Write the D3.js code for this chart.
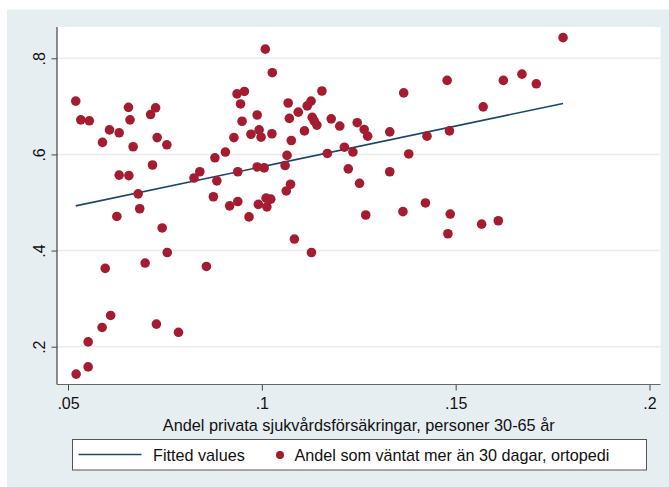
<!DOCTYPE html>
<html>
<head>
<meta charset="utf-8">
<script src="https://cdn.jsdelivr.net/npm/d3@7"></script>
<style>
    body { margin: 0; background: #ffffff; }
    svg { display: block; font-family: "Liberation Sans", Arial, sans-serif; }
    .axis text { font-size: 16px; fill: #111; }
    .axis line { stroke: #444; }
</style>
</head>
<body>
<svg width="669" height="487"></svg>
<script>
// Andel privata sjukvårdsförsäkringar vs väntetid ortopedi

// insurance share (x) and share waiting > 30 days (y), one entry per region
var insuranceShare = [
    0.0520, 0.0533, 0.0555, 0.0589, 0.0607, 0.0632, 0.0656, 0.0660, 0.0668, 0.0713,
    0.0726, 0.0730, 0.0755, 0.0718, 0.0632, 0.0657, 0.0681, 0.0685, 0.0626, 0.0825,
    0.0840, 0.0879, 0.0884, 0.0906, 0.0875, 0.0917, 0.0938, 0.0928, 0.0936, 0.0955,
    0.0945, 0.0949, 0.0938, 0.0972, 0.0988, 0.0988, 0.0967, 0.0991, 0.0743, 0.0756,
    0.0699, 0.0596, 0.0857, 0.0610, 0.0588, 0.0552, 0.0552, 0.0521, 0.0728, 0.0785,
    0.1009, 0.1027, 0.0993, 0.0998, 0.1026, 0.1068, 0.1071, 0.1094, 0.1117, 0.1127,
    0.1155, 0.1130, 0.1135, 0.1142, 0.1110, 0.1076, 0.1065, 0.1060, 0.1006, 0.1179,
    0.1201, 0.1246, 0.1264, 0.1273, 0.1330, 0.1366, 0.1478, 0.1426, 0.1484, 0.1169,
    0.1213, 0.1235, 0.1223, 0.1379, 0.1330, 0.1252, 0.1074, 0.1063, 0.1011, 0.1023,
    0.1013, 0.1268, 0.1364, 0.1422, 0.1486, 0.1084, 0.1128, 0.1480, 0.1777, 0.1623,
    0.1671, 0.1708, 0.1571, 0.1567, 0.1610
];
var waitShare = [
    0.711, 0.672, 0.670, 0.625, 0.651, 0.645, 0.698, 0.672, 0.616, 0.683,
    0.697, 0.635, 0.620, 0.578, 0.557, 0.556, 0.518, 0.487, 0.471, 0.551,
    0.564, 0.593, 0.545, 0.605, 0.512, 0.493, 0.502, 0.635, 0.726, 0.731,
    0.705, 0.669, 0.564, 0.642, 0.682, 0.574, 0.470, 0.496, 0.447, 0.396,
    0.374, 0.363, 0.367, 0.265, 0.240, 0.210, 0.158, 0.143, 0.247, 0.230,
    0.819, 0.770, 0.651, 0.636, 0.643, 0.707, 0.675, 0.688, 0.701, 0.711,
    0.732, 0.677, 0.670, 0.661, 0.649, 0.629, 0.598, 0.577, 0.572, 0.674,
    0.659, 0.666, 0.652, 0.638, 0.647, 0.728, 0.754, 0.638, 0.649, 0.602,
    0.615, 0.605, 0.570, 0.601, 0.564, 0.540, 0.538, 0.524, 0.509, 0.507,
    0.491, 0.474, 0.481, 0.499, 0.476, 0.424, 0.396, 0.435, 0.843, 0.754,
    0.767, 0.747, 0.699, 0.455, 0.462
];

// fitted values (end points of the regression line)
var fittedX = [0.0520, 0.1777];
var fittedY = [0.493, 0.706];

var xTicks = [0.05, 0.1, 0.15, 0.2];
var xTickLabels = ['.05', '.1', '.15', '.2'];
var yTicks = [0.2, 0.4, 0.6, 0.8];
var yTickLabels = ['.2', '.4', '.6', '.8'];

var xTitle = 'Andel privata sjukvårdsförsäkringar, personer 30-65 år';
var legendLabels = ['Fitted values', 'Andel som väntat mer än 30 dagar, ortopedi'];

var markerColor = '#a51c30';
var lineColor = '#1a476f';

var svg = d3.select('svg');

var plot = {l: 57, r: 660.5, t: 27, b: 384.5};

var xScale = d3.scaleLinear()
    .domain([0.05, 0.2])
    .range([68, 649.5]);

var yScale = d3.scaleLinear()
    .domain([0.2, 0.8])
    .range([346.7, 58.3]);

// graph region background
svg.append('rect')
    .attr('x', 7)
    .attr('y', 9.5)
    .attr('width', 662)
    .attr('height', 478)
    .attr('fill', '#e7eef1');

// plot region
svg.append('rect')
    .attr('x', plot.l)
    .attr('y', plot.t)
    .attr('width', plot.r - plot.l)
    .attr('height', plot.b - plot.t)
    .attr('fill', '#ffffff');

// horizontal grid lines
svg.append('g')
    .attr('class', 'grid')
    .selectAll('line')
    .data(yTicks)
    .enter()
    .append('line')
    .attr('x1', plot.l)
    .attr('x2', plot.r)
    .attr('y1', function(d) { return yScale(d); })
    .attr('y2', function(d) { return yScale(d); })
    .attr('stroke', '#eaeced')
    .attr('stroke-width', 1.5);

// fitted line
svg.append('line')
    .attr('x1', xScale(fittedX[0]))
    .attr('y1', yScale(fittedY[0]))
    .attr('x2', xScale(fittedX[1]))
    .attr('y2', yScale(fittedY[1]))
    .attr('stroke', lineColor)
    .attr('stroke-width', 1.6);

// scatter points
svg.append('g')
    .attr('class', 'dots')
    .selectAll('circle')
    .data(d3.range(insuranceShare.length))
    .enter()
    .append('circle')
    .attr('cx', function(i) { return xScale(insuranceShare[i]); })
    .attr('cy', function(i) { return yScale(waitShare[i]); })
    .attr('r', 4.8)
    .attr('fill', markerColor);

// y axis
var yAxis = d3.axisLeft(yScale)
    .tickValues(yTicks)
    .tickSize(5.5)
    .tickFormat(function(d, i) { return yTickLabels[i]; });

var yAxisG = svg.append('g')
    .attr('class', 'axis axis-y')
    .attr('transform', 'translate(' + plot.l + ',0)')
    .call(yAxis);

yAxisG.select('.domain').remove();
yAxisG.selectAll('text')
    .attr('x', null)
    .attr('dy', null)
    .attr('text-anchor', 'middle')
    .attr('transform', 'translate(-12.5,0) rotate(-90)');

// x axis
var xAxis = d3.axisBottom(xScale)
    .tickValues(xTicks)
    .tickSize(6)
    .tickFormat(function(d, i) { return xTickLabels[i]; });

var xAxisG = svg.append('g')
    .attr('class', 'axis axis-x')
    .attr('transform', 'translate(0,' + plot.b + ')')
    .call(xAxis);

xAxisG.select('.domain').remove();
xAxisG.selectAll('text')
    .attr('y', 24.5)
    .attr('dy', null);

// axis lines
svg.append('line')
    .attr('x1', plot.l)
    .attr('x2', plot.l)
    .attr('y1', plot.t)
    .attr('y2', plot.b)
    .attr('stroke', '#444')
    .attr('stroke-width', 1.2);

svg.append('line')
    .attr('x1', plot.l)
    .attr('x2', plot.r)
    .attr('y1', plot.b)
    .attr('y2', plot.b)
    .attr('stroke', '#666')
    .attr('stroke-width', 1.2);

// x axis title
svg.append('text')
    .attr('x', (plot.l + plot.r) / 2)
    .attr('y', 431)
    .attr('text-anchor', 'middle')
    .attr('font-size', 16.3)
    .attr('fill', '#111')
    .text(xTitle);

// legend
var legend = svg.append('g')
    .attr('class', 'legend');

legend.append('rect')
    .attr('x', 72.5)
    .attr('y', 439.5)
    .attr('width', 574)
    .attr('height', 30.5)
    .attr('fill', '#ffffff')
    .attr('stroke', '#555')
    .attr('stroke-width', 1);

legend.append('line')
    .attr('x1', 78.5)
    .attr('x2', 141.5)
    .attr('y1', 454.5)
    .attr('y2', 454.5)
    .attr('stroke', lineColor)
    .attr('stroke-width', 1.6);

legend.append('text')
    .attr('x', 153)
    .attr('y', 461)
    .attr('font-size', 16.2)
    .attr('fill', '#111')
    .text(legendLabels[0]);

legend.append('circle')
    .attr('cx', 280)
    .attr('cy', 455)
    .attr('r', 4)
    .attr('fill', markerColor);

legend.append('text')
    .attr('x', 294.5)
    .attr('y', 461)
    .attr('font-size', 16.2)
    .attr('fill', '#111')
    .text(legendLabels[1]);
</script>
</body>
</html>
